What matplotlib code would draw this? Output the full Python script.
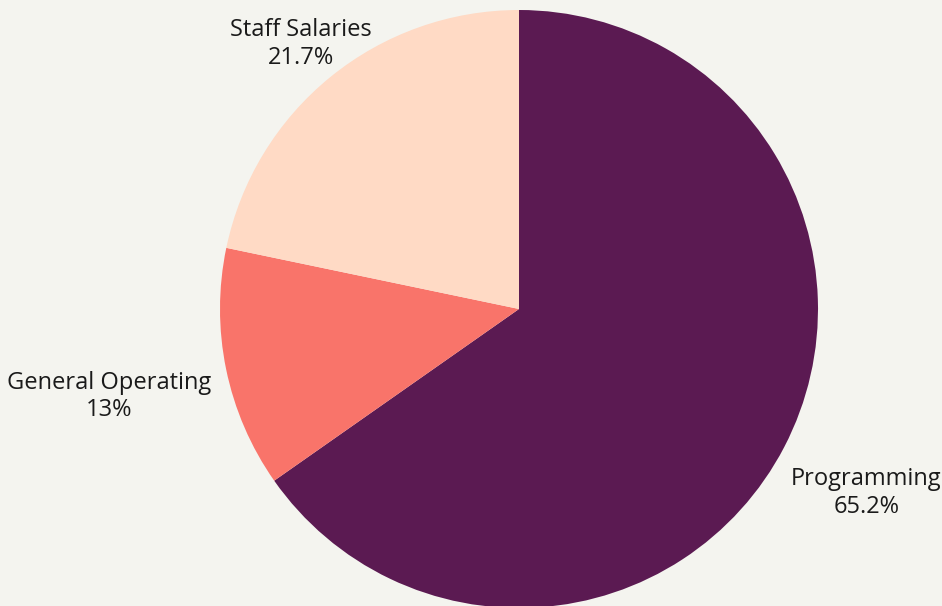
import numpy as np
import matplotlib.pyplot as plt

categories = ["Programming", "General Operating", "Staff Salaries"]
values = [65.2, 13.0, 21.7]
pct_labels = ["65.2%", "13%", "21.7%"]

COLORS = ["#5b1a52", "#f9746a", "#ffdac5"]
BG = "#f4f4ef"
LABEL_DIST = [1.31, 1.40, 1.155]  # label distance per slice, in radii

W, H = 942, 606
CX, CY, R = 519, H - 309, 299

plt.rcParams["font.family"] = ["Open Sans", "DejaVu Sans"]

fig = plt.figure(figsize=(W / 100, H / 100), dpi=100, facecolor=BG)
ax = fig.add_axes([0, 0, 1, 1])
ax.set_facecolor(BG)

wedges, _ = ax.pie(values, colors=COLORS, startangle=90, counterclock=False,
                   center=(CX, CY), radius=R, wedgeprops=dict(linewidth=0))

for w, name, pct, d in zip(wedges, categories, pct_labels, LABEL_DIST):
    ang = np.deg2rad((w.theta1 + w.theta2) / 2)
    x = CX + d * R * np.cos(ang)
    y = CY + d * R * np.sin(ang) - 3
    ax.text(x, y, f"{name}\n{pct}", ha="center", va="center", fontsize=17,
            color="#1a1a1a", linespacing=1.2)

ax.set_xlim(0, W)
ax.set_ylim(0, H)
ax.set_aspect("equal")
ax.axis("off")

fig.savefig("out.png", dpi=100, facecolor=BG)
